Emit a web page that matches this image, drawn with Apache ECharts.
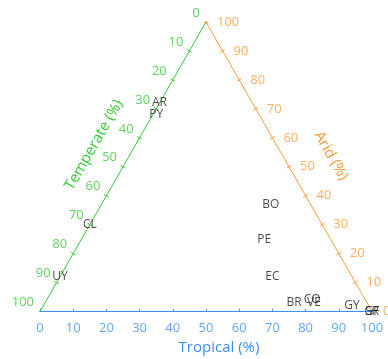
<!DOCTYPE html>
<html><head><meta charset="utf-8">
<script src="https://cdn.jsdelivr.net/npm/echarts@6/dist/echarts.min.js"></script>
<style>html,body{margin:0;padding:0;background:#fff}#c{width:388px;height:359px}</style>
</head><body><div id="c"></div>
<script>
const countries = ['AR','PY','CL','UY','BO','PE','EC','BR','CO','VE','GY','GF','SR'];
const tropical  = [0, 1, 0, 0, 51, 55, 64, 75, 80, 81, 93, 100, 100];
const temperate = [28, 31, 70, 88, 12, 20, 24, 22, 16, 16, 5, 0, 0];
const arid      = [72, 68, 30, 12, 37, 25, 12, 3, 4, 3, 2, 0, 0];
const tickValues = [0,10,20,30,40,50,60,70,80,90,100];

const H = Math.sqrt(3)/2;
function toXY(t, a){ return [t/100 + 0.5*a/100, H*a/100]; }
const GREEN='#38c838', ORANGE='#ff9a38', BLUE='#3b8ff5';
const FONT='Open Sans';

const pts = countries.map((c,i)=>({name:c, value: toXY(tropical[i], arid[i])}));

const bottomPts = tickValues.map(v=>({name:String(v), value:toXY(v,0)}));
const leftPts = tickValues.map(v=>({name:String(v), value:toXY(0,100-v)}));
const rightPts = tickValues.map(v=>({name:String(v), value:toXY(100-v,v)}));

const L=0.008;
function ticks(arr, nx, ny){
  return arr.map(p=>({coords:[[p.value[0]-nx*L, p.value[1]-ny*L],[p.value[0]+nx*L, p.value[1]+ny*L]]}));
}

const chart = echarts.init(document.getElementById('c'), null, {renderer:'canvas'});
chart.setOption({
  animation:false,
  grid:{left:40, right:16, top:22, bottom:47.5},
  xAxis:{type:'value', min:0, max:1, show:false},
  yAxis:{type:'value', min:0, max:H, show:false},
  series:[
    {type:'line', data:[toXY(0,0), toXY(100,0)], symbol:'none', lineStyle:{color:BLUE, width:1}, z:2},
    {type:'line', data:[toXY(0,0), toXY(0,100)], symbol:'none', lineStyle:{color:GREEN, width:1}, z:2},
    {type:'line', data:[toXY(100,0), toXY(0,100)], symbol:'none', lineStyle:{color:ORANGE, width:1}, z:2},
    {type:'lines', coordinateSystem:'cartesian2d', data:ticks(bottomPts,0,1), lineStyle:{color:BLUE,width:1,opacity:1}},
    {type:'lines', coordinateSystem:'cartesian2d', data:ticks(leftPts,0.866,-0.5), lineStyle:{color:GREEN,width:1,opacity:1}},
    {type:'lines', coordinateSystem:'cartesian2d', data:ticks(rightPts,-0.866,-0.5), lineStyle:{color:ORANGE,width:1,opacity:1}},
    {type:'scatter', data:bottomPts, symbolSize:0, silent:true,
     label:{show:true, formatter:'{b}', position:'bottom', distance:10, color:BLUE, fontSize:13, fontFamily:FONT}},
    {type:'scatter', data:leftPts, symbolSize:0, silent:true,
     label:{show:true, formatter:'{b}', position:'left', distance:6, offset:[0,-9], color:GREEN, fontSize:13, fontFamily:FONT}},
    {type:'scatter', data:rightPts, symbolSize:0, silent:true,
     label:{show:true, formatter:'{b}', position:'right', distance:11, color:ORANGE, fontSize:13, fontFamily:FONT}},
    {type:'scatter', data:pts, symbolSize:0, silent:true, z:5,
     label:{show:true, formatter:'{b}', position:'inside', align:'center', verticalAlign:'middle', color:'#1a1a1a', fontSize:12, fontFamily:FONT}}
  ],
  graphic:[
    {type:'text', x:219, y:348, style:{text:'Tropical (%)', fill:BLUE, font:'15px "Open Sans"', align:'center', verticalAlign:'middle'}},
    {type:'text', x:94, y:145, rotation:Math.PI/3, style:{text:'Temperate (%)', fill:GREEN, font:'15px "Open Sans"', align:'center', verticalAlign:'middle'}},
    {type:'text', x:331, y:156, rotation:-Math.PI/3, style:{text:'Arid (%)', fill:ORANGE, font:'15px "Open Sans"', align:'center', verticalAlign:'middle'}}
  ]
});
</script></body></html>
